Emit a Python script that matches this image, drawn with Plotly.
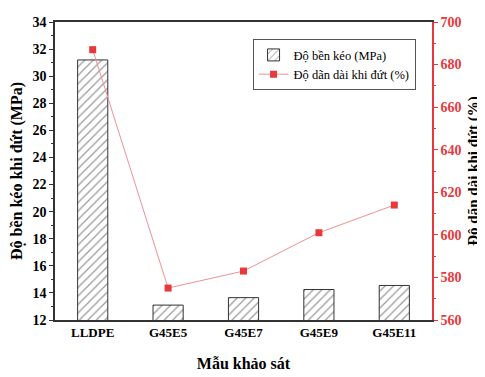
import plotly.graph_objects as go

categories = ["LLDPE", "G45E5", "G45E7", "G45E9", "G45E11"]
tensile_strength = [31.2, 13.1, 13.65, 14.25, 14.55]
elongation = [687, 575, 583, 601, 614]

FONT = "Liberation Serif, Times New Roman, serif"
RED = "#e8383d"

fig = go.Figure()
fig.add_trace(go.Bar(
    x=categories, y=tensile_strength, name="Độ bền kéo (MPa)",
    width=0.4,
    marker=dict(color="white", line=dict(color="#333", width=1),
                pattern=dict(shape="/", fgcolor="#333", bgcolor="white", size=6, solidity=0.2)),
    yaxis="y",
))
fig.add_trace(go.Scatter(
    x=categories, y=elongation, name="Độ dãn dài khi đứt (%)",
    mode="lines+markers",
    line=dict(color="#f29090", width=1),
    marker=dict(symbol="square", color=RED, size=7),
    yaxis="y2",
))

# the page body adds an 8px margin, so the figure is sized/offset to compensate
fig.update_layout(
    width=477, height=369,
    margin=dict(l=46, r=53, t=7, b=54),
    plot_bgcolor="white", paper_bgcolor="white",
    font=dict(family=FONT, color="black"),
    showlegend=True,
    legend=dict(x=0.524, y=0.942, xanchor="left", yanchor="top",
                bgcolor="white", bordercolor="#555", borderwidth=1,
                font=dict(family=FONT, size=12.5, color="black"),
                tracegroupgap=0, itemwidth=30),
    xaxis=dict(
        range=[-0.5, 4.5], showline=True, linecolor="#333", linewidth=1.5,
        mirror=True, ticks="", tickfont=dict(family=FONT, size=13, color="black", weight="bold"),
        title=dict(text="<b>Mẫu khảo sát</b>", font=dict(family=FONT, size=16), standoff=18),
        showgrid=False,
    ),
    yaxis=dict(
        range=[12, 34], dtick=2, showline=True, linecolor="#333", linewidth=1.5,
        ticks="outside", ticklen=4, tickcolor="#333",
        minor=dict(ticks="outside", dtick=1, ticklen=2, tickcolor="#333"),
        tickfont=dict(family=FONT, size=14, color="black", weight="bold"),
        title=dict(text="<b>Độ bền kéo khi đứt (MPa)</b>", font=dict(family=FONT, size=16), standoff=6),
        showgrid=False, zeroline=False,
    ),
    yaxis2=dict(
        range=[560, 700], dtick=20, overlaying="y", side="right",
        showline=True, linecolor=RED, linewidth=1.5,
        ticks="outside", ticklen=4, tickcolor=RED,
        minor=dict(ticks="outside", dtick=10, ticklen=2, tickcolor=RED),
        tickfont=dict(family=FONT, size=14, color=RED, weight="bold"),
        showgrid=False, zeroline=False,
    ),
    annotations=[dict(
        text="<b>Độ dãn dài khi đứt (%)</b>", xref="paper", yref="paper",
        x=1.108, y=0.5, xanchor="center", yanchor="middle", textangle=-90,
        showarrow=False, font=dict(family=FONT, size=15, color="black"),
    )],
)

fig.write_html("out.html")
